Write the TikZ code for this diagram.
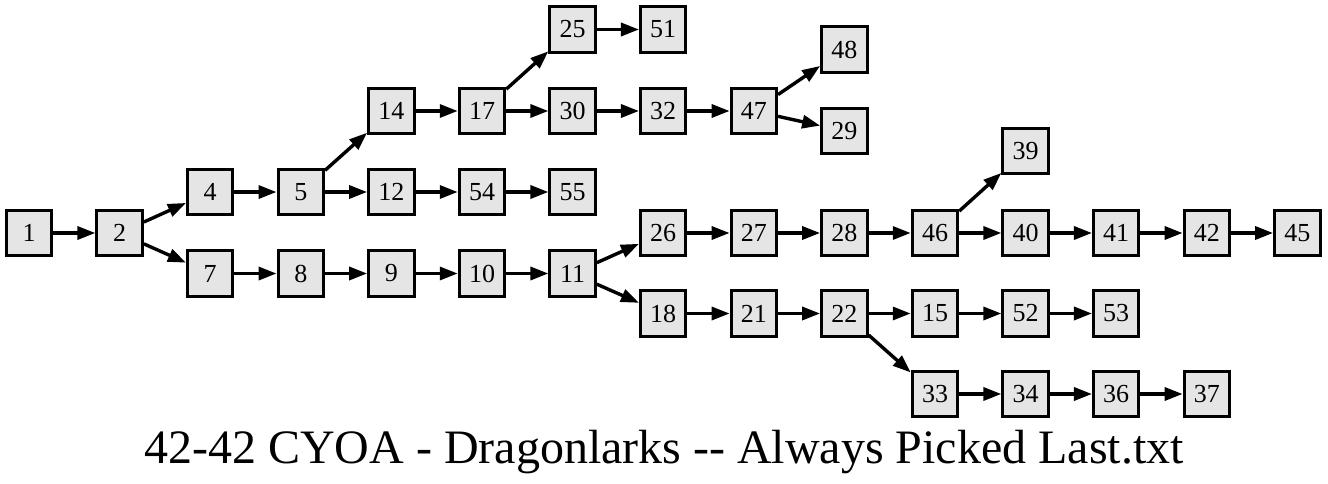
\documentclass[tikz,border=0pt]{standalone}
\usepackage{fontspec}
\setmainfont{Liberation Serif}
\usetikzlibrary{arrows.meta}

\begin{document}
\begin{tikzpicture}[x=1pt,y=1pt,
  box/.style={draw,line width=3pt,fill=black!10,minimum size=45.5pt,inner sep=0pt,font=\fontsize{26}{26}\selectfont},
  edge/.style={line width=3.4pt,-{Triangle[length=18pt,width=13pt]}}]
\useasboundingbox (0,0) rectangle (1328,483);

% Draw passages
\node[box] (n1) at (29,250) {1};
\node[box] (n2) at (119.6,250) {2};
\node[box] (n4) at (210.2,291) {4};
\node[box] (n7) at (210.2,209.5) {7};
\node[box] (n5) at (300.8,291) {5};
\node[box] (n8) at (300.8,209.5) {8};
\node[box] (n14) at (391.4,372) {14};
\node[box] (n12) at (391.4,291) {12};
\node[box] (n9) at (391.4,209.5) {9};
\node[box] (n17) at (482,372) {17};
\node[box] (n54) at (482,291) {54};
\node[box] (n10) at (482,209.5) {10};
\node[box] (n25) at (572.6,453.5) {25};
\node[box] (n30) at (572.6,372) {30};
\node[box] (n55) at (572.6,291) {55};
\node[box] (n11) at (572.6,209.5) {11};
\node[box] (n51) at (663.2,453.5) {51};
\node[box] (n32) at (663.2,372) {32};
\node[box] (n26) at (663.2,250) {26};
\node[box] (n18) at (663.2,169.5) {18};
\node[box] (n47) at (753.8,372) {47};
\node[box] (n27) at (753.8,250) {27};
\node[box] (n21) at (753.8,169.5) {21};
\node[box] (n48) at (844.4,433.5) {48};
\node[box] (n29) at (844.4,352) {29};
\node[box] (n28) at (844.4,250) {28};
\node[box] (n22) at (844.4,169.5) {22};
\node[box] (n46) at (935,250) {46};
\node[box] (n15) at (935,169.5) {15};
\node[box] (n33) at (935,89) {33};
\node[box] (n39) at (1025.6,332) {39};
\node[box] (n40) at (1025.6,250) {40};
\node[box] (n52) at (1025.6,169.5) {52};
\node[box] (n34) at (1025.6,89) {34};
\node[box] (n41) at (1116.2,250) {41};
\node[box] (n53) at (1116.2,169.5) {53};
\node[box] (n36) at (1116.2,89) {36};
\node[box] (n42) at (1206.8,250) {42};
\node[box] (n37) at (1206.8,89) {37};
\node[box] (n45) at (1297.4,250) {45};

% Draw choices
\draw[edge] (n1) -- (n2);
\draw[edge] (n2) -- (n4);
\draw[edge] (n2) -- (n7);
\draw[edge] (n4) -- (n5);
\draw[edge] (n5) -- (n14);
\draw[edge] (n5) -- (n12);
\draw[edge] (n14) -- (n17);
\draw[edge] (n17) -- (n25);
\draw[edge] (n17) -- (n30);
\draw[edge] (n25) -- (n51);
\draw[edge] (n30) -- (n32);
\draw[edge] (n32) -- (n47);
\draw[edge] (n47) -- (n48);
\draw[edge] (n47) -- (n29);
\draw[edge] (n12) -- (n54);
\draw[edge] (n54) -- (n55);
\draw[edge] (n7) -- (n8);
\draw[edge] (n8) -- (n9);
\draw[edge] (n9) -- (n10);
\draw[edge] (n10) -- (n11);
\draw[edge] (n11) -- (n26);
\draw[edge] (n11) -- (n18);
\draw[edge] (n26) -- (n27);
\draw[edge] (n27) -- (n28);
\draw[edge] (n28) -- (n46);
\draw[edge] (n46) -- (n39);
\draw[edge] (n46) -- (n40);
\draw[edge] (n40) -- (n41);
\draw[edge] (n41) -- (n42);
\draw[edge] (n42) -- (n45);
\draw[edge] (n18) -- (n21);
\draw[edge] (n21) -- (n22);
\draw[edge] (n22) -- (n15);
\draw[edge] (n22) -- (n33);
\draw[edge] (n15) -- (n52);
\draw[edge] (n52) -- (n53);
\draw[edge] (n33) -- (n34);
\draw[edge] (n34) -- (n36);
\draw[edge] (n36) -- (n37);

% Add title
\node[anchor=base,font=\fontsize{48}{48}\selectfont] (title) at (664,20) {42-42 CYOA - Dragonlarks -{}- Always Picked Last.txt};
\end{tikzpicture}
\end{document}
